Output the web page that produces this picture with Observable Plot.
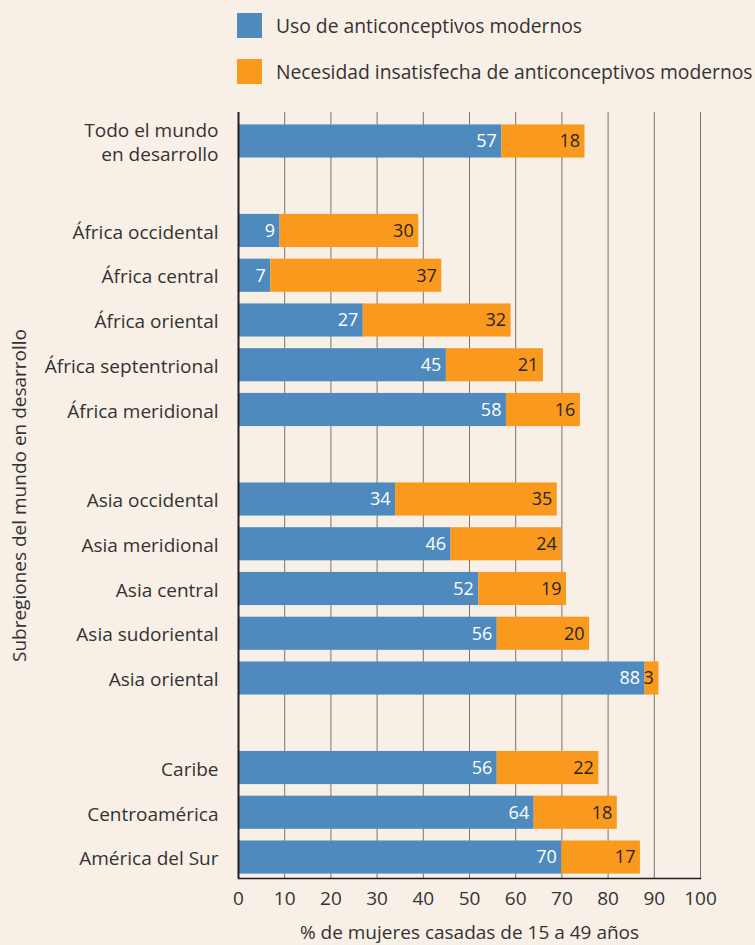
<!DOCTYPE html>
<html><head><meta charset="utf-8">
<script src="https://cdn.jsdelivr.net/npm/d3@7"></script>
<script src="https://cdn.jsdelivr.net/npm/@observablehq/plot@0.6"></script>
<style>
body{margin:0;background:#f8efe6;font-family:"Open Sans",sans-serif;color:#333}
#wrap{position:relative;width:755px;height:945px;overflow:hidden}
.leg{position:absolute;left:237px;display:flex;align-items:center;font-size:19.3px;white-space:nowrap}
.sw{width:25px;height:25px;margin-right:14px}
#chart{position:absolute;left:0;top:0}
</style></head><body>
<div id="wrap">
<div class="leg" style="top:12px"><div class="sw" style="background:#4e8abe"></div>Uso de anticonceptivos modernos</div>
<div class="leg" style="top:58px"><div class="sw" style="background:#f99a1f"></div>Necesidad insatisfecha de anticonceptivos modernos</div>
<div id="chart"></div>
</div>
<script>
const categories = ["Todo el mundo\nen desarrollo","_1","África occidental","África central","África oriental","África septentrional","África meridional","_2","Asia occidental","Asia meridional","Asia central","Asia sudoriental","Asia oriental","_3","Caribe","Centroamérica","América del Sur"];
const regions = ["Todo el mundo\nen desarrollo","África occidental","África central","África oriental","África septentrional","África meridional","Asia occidental","Asia meridional","Asia central","Asia sudoriental","Asia oriental","Caribe","Centroamérica","América del Sur"];
const uso = [57,9,7,27,45,58,34,46,52,56,88,56,64,70];
const necesidad = [18,30,37,32,21,16,35,24,19,20,3,22,18,17];
const xTicks = [0,10,20,30,40,50,60,70,80,90,100];
const blue = "#4e8abe", orange = "#f99a1f";

const rows = regions.map((r,i)=>({region:r, uso:uso[i], nec:necesidad[i], total:uso[i]+necesidad[i]}));

const chart = Plot.plot({
  width: 755, height: 945,
  marginTop: 112, marginBottom: 67, marginLeft: 238, marginRight: 55,
  style: {background: "transparent", fontFamily: "Open Sans, sans-serif", fontSize: "18px", color: "#333"},
  x: {domain: [0,100]},
  y: {domain: categories, range: [118.6, 879.4], paddingInner: 0.26, paddingOuter: 0.13, round: false},
  marks: [
    Plot.gridX(xTicks, {stroke: "#7d746e", strokeOpacity: 1, strokeWidth: 1}),
    Plot.barX(rows, {y: "region", x1: 0, x2: "uso", fill: blue}),
    Plot.barX(rows, {y: "region", x1: "uso", x2: "total", fill: orange}),
    Plot.text(rows, {y: "region", x: "uso", text: d=>String(d.uso), textAnchor: "end", dx: -5, fill: "white", fontSize: 18}),
    Plot.text(rows, {y: "region", x: "total", text: d=>String(d.nec), textAnchor: "end", dx: -5, fill: "#2a2522", fontSize: 18}),
    Plot.ruleX([0], {stroke: "#231f20", strokeWidth: 2}),
    Plot.frame({anchor: "bottom", stroke: "#231f20", strokeWidth: 1.5}),
    Plot.axisX(xTicks, {tickSize: 0, tickPadding: 13, fontSize: 19, fill: "#333", label: "% de mujeres casadas de 15 a 49 años", labelAnchor: "center", labelOffset: 60, labelArrow: "none"}),
    Plot.axisY({tickSize: 0, tickPadding: 20, fontSize: 19, fill: "#333", lineHeight: 1.27, tickFormat: d => d.startsWith("_") ? "" : d, label: "Subregiones del mundo en desarrollo", labelAnchor: "center", labelOffset: 226, labelArrow: "none"})
  ]
});
document.getElementById("chart").appendChild(chart);
</script>
</body></html>
